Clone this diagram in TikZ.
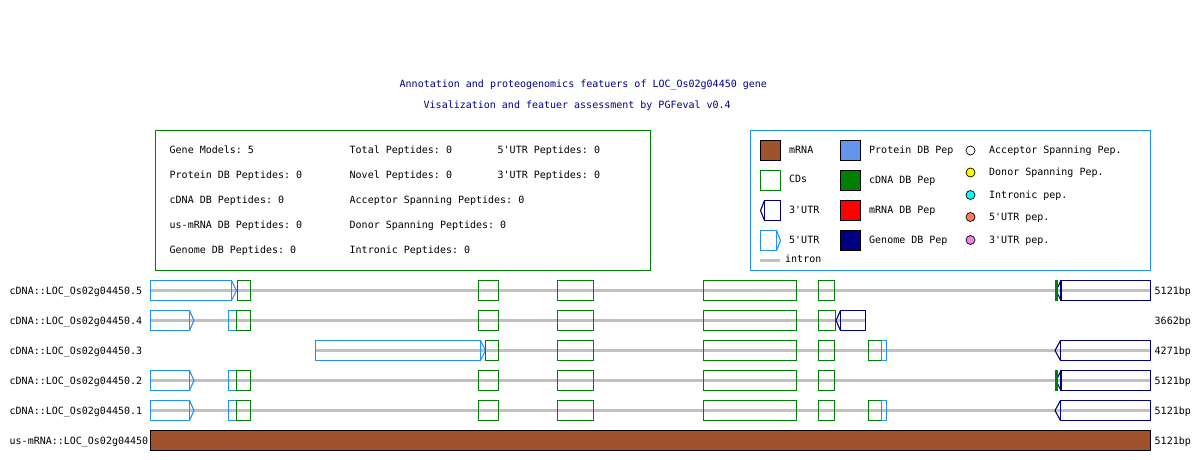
\documentclass[tikz,border=0pt]{standalone}
\usepackage{fontspec}
\setmonofont{DejaVu Sans Mono}
\definecolor{ttl}{HTML}{00008B}
\definecolor{cdsg}{HTML}{008000}
\definecolor{utrf}{HTML}{1E90FF}
\definecolor{utrt}{HTML}{000080}
\definecolor{intr}{HTML}{C0C0C0}
\definecolor{mrnab}{HTML}{A0522D}
\definecolor{protb}{HTML}{6495ED}
\definecolor{corl}{HTML}{FF7F50}
\definecolor{viol}{HTML}{EE82EE}
\definecolor{cyn}{HTML}{00FFFF}
\definecolor{yel}{HTML}{FFFF00}
\newcommand{\cdsrect}[3]{\draw[cdsline] (#1,#3-10) rectangle (#2,#3+10);}
\newcommand{\fiveutr}[4]{\draw[fiveline] (#1,#4-10) rectangle (#2,#4+10);
  \draw[fiveline] (#2,#4-10) -- (#3,#4) -- (#2,#4+10);}
\newcommand{\threeutr}[4]{\draw[threeline] (#2,#4-10) rectangle (#3,#4+10);
  \draw[threeline] (#2,#4-10) -- (#1,#4) -- (#2,#4+10);}
\newcommand{\intronln}[3]{\draw[intronline] (#1,#3) -- (#2,#3);}
\begin{document}
\begin{tikzpicture}[x=1pt,y=-1pt,
  txt/.style={inner sep=0pt,anchor=base west,font=\ttfamily\fontsize{10}{12}\selectfont},
  cdsline/.style={draw=cdsg,line width=1.1pt},
  fiveline/.style={draw=utrf,line width=1.1pt,line join=miter},
  threeline/.style={draw=utrt,line width=1.1pt,line join=miter},
  intronline/.style={draw=intr,line width=2.2pt},
  legsq/.style={line width=1.1pt},
  legdot/.style={draw=black,line width=0.7pt}]
\useasboundingbox (0,0) rectangle (1200,460);
\fill[white] (0,0) rectangle (1200,460);
% titles
\node[txt,text=ttl] (t1) at (399.5,88) {Annotation and proteogenomics featuers of LOC\_Os02g04450 gene};
\node[txt,text=ttl] (t2) at (423.5,108) {Visalization and featuer assessment by PGFeval v0.4};
% summary box
\draw[draw=cdsg,line width=1.1pt] (155.5,130.5) rectangle (650.5,270.5);
\node[txt] (s1) at (169.5,153) {Gene Models: 5};
\node[txt] (s2) at (169.5,178) {Protein DB Peptides: 0};
\node[txt] (s3) at (169.5,203) {cDNA DB Peptides: 0};
\node[txt] (s4) at (169.5,228) {us-mRNA DB Peptides: 0};
\node[txt] (s5) at (169.5,253) {Genome DB Peptides: 0};
\node[txt] (s6) at (349.5,153) {Total Peptides: 0};
\node[txt] (s7) at (349.5,178) {Novel Peptides: 0};
\node[txt] (s8) at (349.5,203) {Acceptor Spanning Peptides: 0};
\node[txt] (s9) at (349.5,228) {Donor Spanning Peptides: 0};
\node[txt] (s10) at (349.5,253) {Intronic Peptides: 0};
\node[txt] (s11) at (497.5,153) {5'UTR Peptides: 0};
\node[txt] (s12) at (497.5,178) {3'UTR Peptides: 0};
% legend box
\draw[draw=utrf,line width=1.1pt] (750.5,130.5) rectangle (1150.5,270.5);
\draw[legsq,fill=mrnab,draw=black] (760.5,140.5) rectangle (780.5,160.5);
\draw[legsq,draw=cdsg] (760.5,170.5) rectangle (780.5,190.5);
\draw[threeline] (764.5,200.5) rectangle (780.5,220.5);
\draw[threeline] (764.5,200.5) -- (760.5,210.5) -- (764.5,220.5);
\draw[fiveline] (760.5,230.5) rectangle (776.5,250.5);
\draw[fiveline] (776.5,230.5) -- (780.5,240.5) -- (776.5,250.5);
\draw[intronline] (760,260.5) -- (780,260.5);
\node[txt] (l1) at (789,153) {mRNA};
\node[txt] (l2) at (789,182.5) {CDs};
\node[txt] (l3) at (789,213) {3'UTR};
\node[txt] (l4) at (789,243) {5'UTR};
\node[txt] (l5) at (785,262.7) {intron};
\draw[legsq,fill=protb,draw=black] (840.5,140.5) rectangle (860.5,160.5);
\draw[legsq,fill=cdsg,draw=black] (840.5,170.5) rectangle (860.5,190.5);
\draw[legsq,fill=red,draw=black] (840.5,200.5) rectangle (860.5,220.5);
\draw[legsq,fill=utrt,draw=black] (840.5,230.5) rectangle (860.5,250.5);
\node[txt] (l6) at (869,153) {Protein DB Pep};
\node[txt] (l7) at (869,183) {cDNA DB Pep};
\node[txt] (l8) at (869,213) {mRNA DB Pep};
\node[txt] (l9) at (869,243) {Genome DB Pep};
\draw[legdot,fill=white] (970.5,150.5) circle (4.5);
\draw[legdot,fill=yel] (970.5,172.5) circle (4.5);
\draw[legdot,fill=cyn] (970.5,195) circle (4.5);
\draw[legdot,fill=corl] (970.5,217) circle (4.5);
\draw[legdot,fill=viol] (970.5,240) circle (4.5);
\node[txt] (l10) at (989,153) {Acceptor Spanning Pep.};
\node[txt] (l11) at (989,175) {Donor Spanning Pep.};
\node[txt] (l12) at (989,198.3) {Intronic pep.};
\node[txt] (l13) at (989,220) {5'UTR pep.};
\node[txt] (l14) at (989,243.3) {3'UTR pep.};
% track labels
\node[txt] (r5) at (9.5,294.2) {cDNA::LOC\_Os02g04450.5};
\node[txt] (r4) at (9.5,324.2) {cDNA::LOC\_Os02g04450.4};
\node[txt] (r3) at (9.5,354.2) {cDNA::LOC\_Os02g04450.3};
\node[txt] (r2) at (9.5,384.2) {cDNA::LOC\_Os02g04450.2};
\node[txt] (r1) at (9.5,414.2) {cDNA::LOC\_Os02g04450.1};
\node[txt] (rm) at (9.5,444.2) {us-mRNA::LOC\_Os02g04450};
\node[txt] (b5) at (1154.5,294.2) {5121bp};
\node[txt] (b4) at (1154.5,324.2) {3662bp};
\node[txt] (b3) at (1154.5,354.2) {4271bp};
\node[txt] (b2) at (1154.5,384.2) {5121bp};
\node[txt] (b1) at (1154.5,414.2) {5121bp};
\node[txt] (bm) at (1154.5,444.2) {5121bp};
% row .5 (y=290)
\intronln{150}{1150.5}{290.5}
\fiveutr{150.5}{231.5}{236.5}{290.5}
\cdsrect{237.5}{250.5}{290.5}
\cdsrect{478.5}{498.5}{290.5}
\cdsrect{557.5}{593.5}{290.5}
\cdsrect{703.5}{796.5}{290.5}
\cdsrect{818.5}{834.5}{290.5}
\threeutr{1056}{1061}{1150.5}{290.5}
\fill[cdsg] (1055,280) rectangle (1057.5,301);
% row .4 (y=320)
\intronln{150}{866}{320.5}
\fiveutr{150.5}{189.5}{194}{320.5}
\draw[fiveline] (228.5,310.5) rectangle (236.5,330.5);
\cdsrect{236.5}{250.5}{320.5}
\cdsrect{478.5}{498.5}{320.5}
\cdsrect{557.5}{593.5}{320.5}
\cdsrect{703.5}{796.5}{320.5}
\cdsrect{818.5}{835.5}{320.5}
\threeutr{836}{840.5}{865.5}{320.5}
% row .3 (y=350)
\intronln{315}{1150.5}{350.5}
\fiveutr{315.5}{480.5}{485.5}{350.5}
\cdsrect{485.5}{498.5}{350.5}
\cdsrect{557.5}{593.5}{350.5}
\cdsrect{703.5}{796.5}{350.5}
\cdsrect{818.5}{834.5}{350.5}
\cdsrect{868.5}{881.5}{350.5}
\draw[fiveline] (881.5,340.5) rectangle (886.5,360.5);
\threeutr{1055}{1060.5}{1150.5}{350.5}
% row .2 (y=380)
\intronln{150}{1150.5}{380.5}
\fiveutr{150.5}{189.5}{194}{380.5}
\draw[fiveline] (228.5,370.5) rectangle (236.5,390.5);
\cdsrect{236.5}{250.5}{380.5}
\cdsrect{478.5}{498.5}{380.5}
\cdsrect{557.5}{593.5}{380.5}
\cdsrect{703.5}{796.5}{380.5}
\cdsrect{818.5}{834.5}{380.5}
\threeutr{1056}{1061}{1150.5}{380.5}
\fill[cdsg] (1055,370) rectangle (1057.5,391);
% row .1 (y=410)
\intronln{150}{1150.5}{410.5}
\fiveutr{150.5}{189.5}{194}{410.5}
\draw[fiveline] (228.5,400.5) rectangle (236.5,420.5);
\cdsrect{236.5}{250.5}{410.5}
\cdsrect{478.5}{498.5}{410.5}
\cdsrect{557.5}{593.5}{410.5}
\cdsrect{703.5}{796.5}{410.5}
\cdsrect{818.5}{834.5}{410.5}
\cdsrect{868.5}{881.5}{410.5}
\draw[fiveline] (881.5,400.5) rectangle (886.5,420.5);
\threeutr{1055}{1060.5}{1150.5}{410.5}
% mRNA bar
\draw[fill=mrnab,draw=black,line width=1.1pt] (150.5,430.5) rectangle (1150.5,450.5);
\end{tikzpicture}
\end{document}
